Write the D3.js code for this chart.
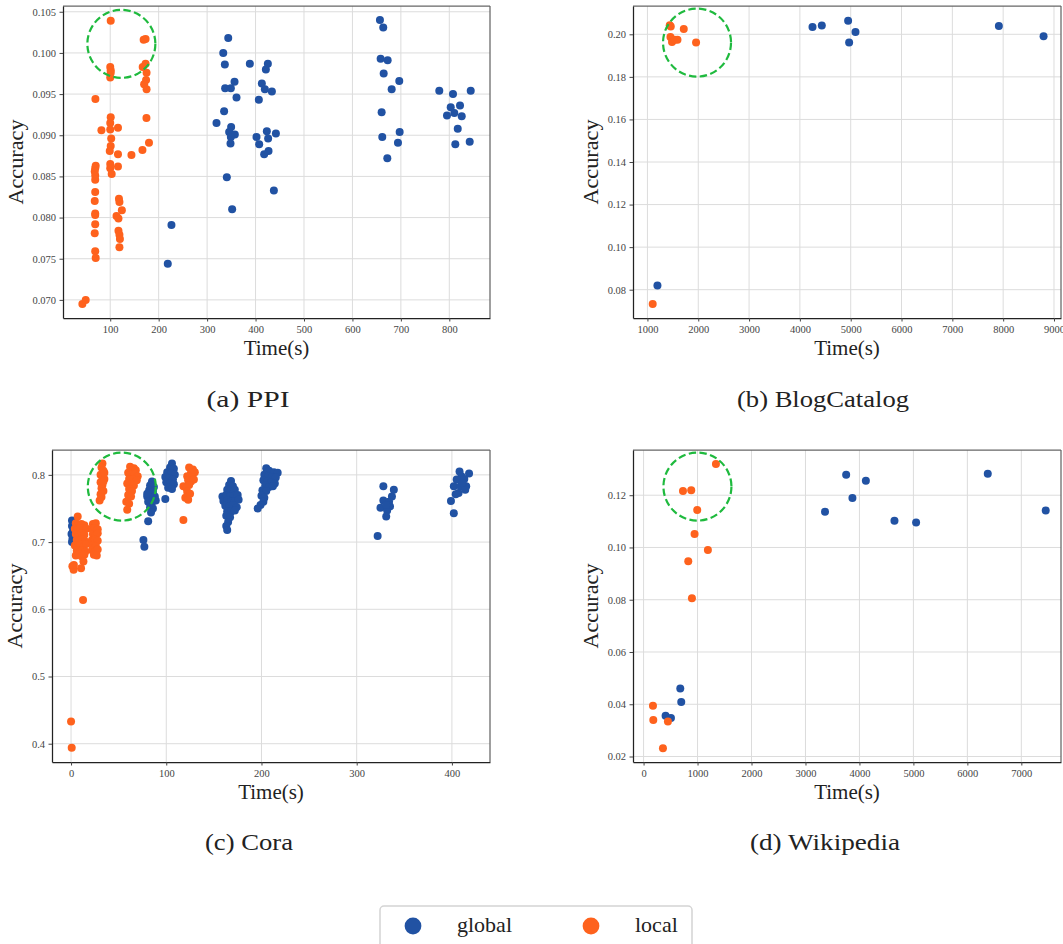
<!DOCTYPE html>
<html>
<head>
<meta charset="utf-8">
<script src="https://cdn.jsdelivr.net/npm/d3@7"></script>
<style>
  body { margin: 0; background: #fff; }
  svg { display: block; }
  .tick text { font-family: "Liberation Serif", serif; font-size: 10.5px; fill: #444; }
  .label { font-family: "Liberation Serif", serif; fill: #222; }
</style>
</head>
<body>
<svg id="fig" width="1063" height="944"></svg>
<script>
// ---- data (time in seconds, accuracy) ----
var ppiGlobal = [
  [226.4,0.0791],[218.8,0.0744],
  [343.6,0.1018],[333.3,0.1000],[336.6,0.0986],[388.2,0.0987],[356.6,0.0965],[337.2,0.0957],[349,0.0957],
  [360.7,0.0946],[335.1,0.0929],[319.4,0.0915],[349.6,0.0910],[345.5,0.0904],[357.2,0.0901],[349,0.0898],
  [348.3,0.0890],[340.7,0.0849],[351.7,0.0810],
  [425.4,0.0987],[421.3,0.0980],[413,0.0963],[419.2,0.0956],[433.7,0.0953],[406.8,0.0943],[423.3,0.0905],
  [402,0.0898],[442,0.0902],[426,0.0896],[407.5,0.0889],[426.8,0.0881],[417.8,0.0877],[437.8,0.0833],
  [656.8,0.1040],[663.6,0.1031],[658.2,0.0993],[672.7,0.0991],[664.5,0.0975],[696.7,0.0966],[681,0.0956],
  [660.3,0.0928],[697.5,0.0904],[661.6,0.0898],[694,0.0891],[672,0.0872],
  [779.3,0.0954],[844.2,0.0954],[807.6,0.0950],[822.1,0.0936],[802.9,0.0934],[810.3,0.0927],[795.2,0.0924],
  [825.6,0.0923],[817.4,0.0908],[842.1,0.0892],[812.4,0.0889]
];
var ppiLocal = [
  [42.5,0.0695],[49.4,0.0700],[69.4,0.0944],
  [70,0.0863],[69,0.0860],[68,0.0856],[69,0.0851],[69,0.0846],[69,0.0831],[68,0.0820],[69,0.0805],
  [69,0.0803],[69,0.0792],[68,0.0781],[69,0.0759],[70,0.0751],
  [81.8,0.0906],
  [101,0.1039],[100,0.0983],[101,0.0979],[101,0.0976],[100,0.0970],[101,0.0922],[100,0.0915],[100,0.0907],
  [102,0.0896],[101,0.0887],[99,0.0881],[100,0.0865],[100,0.0860],[103,0.0853],
  [116,0.0909],[116,0.0877],[116,0.0862],[118,0.0823],[119,0.0819],[124,0.0809],[113,0.0802],[117,0.0799],
  [117,0.0784],[119,0.0779],[120,0.0774],[119,0.0764],
  [143.8,0.0876],[166.5,0.0882],[180,0.0891],[174.8,0.0921],
  [169,0.1016],[173,0.1017],[167,0.0983],[173,0.0987],[175,0.0976],[174,0.0967],[170,0.0962],[175,0.0956]
];
var blogGlobal = [
  [1197,0.0820],[4248,0.2034],[4431,0.2041],[4949,0.2064],[5094,0.2011],[4969,0.1961],[7915,0.2039],[8795,0.1991]
];
var blogLocal = [
  [1439,0.2042],[1459,0.2037],[1453,0.1987],[1484,0.1964],[1537,0.1975],[1591,0.1975],[1715,0.2025],
  [1957,0.1962],[1104,0.0733]
];
var coraGlobal = [
  [1,0.732],[1,0.724],[0.5,0.712],[1.5,0.705],[1,0.700],[2,0.716],
  [76,0.703],[77,0.693],[81,0.731],
  [85,0.790],[83,0.784],[87,0.782],[82,0.777],[86,0.775],[80,0.768],[84,0.767],[88,0.768],[81,0.760],
  [85,0.759],[89,0.762],[83,0.752],[86,0.750],[84,0.744],[80,0.772],
  [99,0.764],
  [106,0.817],[104,0.811],[108,0.809],[101,0.804],[105,0.802],[109,0.800],[99,0.797],[103,0.795],
  [107,0.793],[100,0.789],[104,0.787],[108,0.786],[102,0.781],[106,0.779],
  [168,0.791],[166,0.785],[170,0.783],[164,0.778],[168,0.776],[172,0.778],[159,0.768],[163,0.770],
  [167,0.768],[171,0.769],[175,0.770],[160,0.761],[164,0.762],[168,0.760],[172,0.761],[176,0.763],
  [162,0.754],[166,0.753],[170,0.755],[174,0.752],[164,0.746],[168,0.745],[172,0.747],[163,0.739],
  [167,0.737],[165,0.730],[163,0.724],[164,0.718],
  [205,0.810],[208,0.806],[213,0.804],[217,0.803],[203,0.800],[207,0.798],[211,0.797],[215,0.796],
  [202,0.792],[206,0.790],[210,0.789],[214,0.787],[204,0.784],[208,0.782],[212,0.783],[201,0.777],
  [205,0.776],[200,0.769],[203,0.766],[202,0.760],[199,0.755],[196,0.750],
  [328,0.783],[339,0.778],[337,0.768],[328,0.762],[334,0.760],[325,0.751],[335,0.753],[332,0.747],
  [331,0.738],[322,0.709],[331,0.755],
  [408,0.805],[418,0.802],[410,0.798],[405,0.793],[413,0.794],[402,0.783],[409,0.783],[415,0.783],
  [407,0.773],[414,0.778],[399,0.761],[402,0.743],[411,0.788],[404,0.771]
];
var coraLocal = [
  [0,0.433],[0.7,0.394],[1.4,0.664],[2.7,0.659],[12.6,0.614],[7,0.738],
  [5,0.728],[8,0.726],[11,0.727],[14,0.725],[4,0.720],[7,0.719],[10,0.721],[13,0.718],[16,0.720],
  [5,0.712],[8,0.710],[11,0.713],[14,0.711],[6,0.703],[9,0.702],[12,0.704],[15,0.701],[4,0.695],
  [7,0.694],[10,0.696],[13,0.693],[16,0.697],[6,0.687],[9,0.685],[12,0.688],[15,0.686],[5,0.680],
  [8,0.682],[11,0.679],[14,0.681],[13,0.671],[10.5,0.661],[3,0.666],
  [23,0.727],[26,0.728],[22,0.720],[25,0.721],[28,0.719],[23,0.712],[26,0.710],[28,0.713],[22,0.703],
  [25,0.704],[28,0.702],[23,0.695],[26,0.694],[22,0.688],[25,0.686],[28,0.689],[24,0.681],[27,0.680],
  [33,0.817],[32,0.811],[34,0.806],[31,0.800],[33,0.797],[35,0.794],[31,0.789],[33,0.785],[32,0.780],
  [34,0.776],[31,0.771],[30,0.762],[32,0.767],[34,0.790],[35,0.803],
  [62,0.812],[66,0.810],[64,0.806],[68,0.807],[60,0.803],[63,0.800],[67,0.801],[70,0.798],[61,0.794],
  [65,0.793],[69,0.792],[59,0.787],[63,0.786],[66,0.784],[61,0.779],[64,0.776],[60,0.770],[63,0.768],
  [58,0.760],[61,0.757],[59,0.748],
  [124,0.811],[128,0.808],[126,0.803],[130,0.804],[122,0.798],[127,0.797],[123,0.792],[126,0.790],
  [129,0.793],[118,0.783],[121,0.781],[124,0.785],[122,0.775],[125,0.772],[120,0.766],[123,0.763],
  [118,0.733]
];
var wikiGlobal = [
  [680,0.0460],[698,0.0409],[408,0.0356],[507,0.0347],
  [3362,0.1137],[3754,0.1278],[3870,0.1189],[4119,0.1255],[4649,0.1102],[5050,0.1096],[6378,0.1282],[7452,0.1141]
];
var wikiLocal = [
  [1341,0.1319],[730,0.1216],[883,0.1219],[994,0.1143],[945,0.1052],[1192,0.0990],[828,0.0947],
  [896,0.0806],[174,0.0394],[180,0.0340],[451,0.0334],[359,0.0232]
];

// tick values
var ppiXTicks = [100,200,300,400,500,600,700,800];
var ppiYTicks = [0.070,0.075,0.080,0.085,0.090,0.095,0.100,0.105];
var blogXTicks = [1000,2000,3000,4000,5000,6000,7000,8000,9000];
var blogYTicks = [0.08,0.10,0.12,0.14,0.16,0.18,0.20];
var coraXTicks = [0,100,200,300,400];
var coraYTicks = [0.4,0.5,0.6,0.7,0.8];
var wikiXTicks = [0,1000,2000,3000,4000,5000,6000,7000];
var wikiYTicks = [0.02,0.04,0.06,0.08,0.10,0.12];

var seriesNames = ['global', 'local'];
var blue = '#2152a3', orange = '#fe621d', green = '#1fba3e';

var svg = d3.select('#fig');

function panel(p) {
    var x = d3.scaleLinear().domain(p.xDomain).range([p.left, p.right]);
    var y = d3.scaleLinear().domain(p.yDomain).range([p.bottom, p.top]);
    var g = svg.append('g');

    // grid
    g.selectAll('.vgrid').data(p.xTicks).enter().append('line')
        .attr('x1', d => x(d)).attr('x2', d => x(d))
        .attr('y1', p.top).attr('y2', p.bottom)
        .attr('stroke', '#dcdcdc').attr('stroke-width', 1);
    g.selectAll('.hgrid').data(p.yTicks).enter().append('line')
        .attr('x1', p.left).attr('x2', p.right)
        .attr('y1', d => y(d)).attr('y2', d => y(d))
        .attr('stroke', '#dcdcdc').attr('stroke-width', 1);

    // points (global underneath, local on top)
    g.selectAll('.g').data(p.global).enter().append('circle')
        .attr('cx', d => x(d[0])).attr('cy', d => y(d[1])).attr('r', 4)
        .attr('fill', blue);
    g.selectAll('.l').data(p.local).enter().append('circle')
        .attr('cx', d => x(d[0])).attr('cy', d => y(d[1])).attr('r', 4)
        .attr('fill', orange);

    // dashed highlight
    g.append('circle')
        .attr('cx', x(p.circle[0])).attr('cy', y(p.circle[1])).attr('r', 34)
        .attr('fill', 'none').attr('stroke', green)
        .attr('stroke-width', 2.2).attr('stroke-dasharray', '7.4,3.4');

    // spines
    g.append('line').attr('x1', p.left).attr('x2', p.right).attr('y1', p.top).attr('y2', p.top)
        .attr('stroke', '#666').attr('stroke-width', 1.25);
    g.append('line').attr('x1', p.right).attr('x2', p.right).attr('y1', p.top).attr('y2', p.bottom)
        .attr('stroke', '#666').attr('stroke-width', 1.25);

    var xAxis = d3.axisBottom(x).tickValues(p.xTicks).tickFormat(d3.format('d'))
        .tickSizeInner(3.5).tickSizeOuter(0).tickPadding(4.5);
    var yAxis = d3.axisLeft(y).tickValues(p.yTicks).tickFormat(d3.format(p.yFmt))
        .tickSizeInner(3.5).tickSizeOuter(0).tickPadding(3.5);

    var gx = g.append('g').attr('transform', 'translate(0,' + p.bottom + ')').call(xAxis);
    var gy = g.append('g').attr('transform', 'translate(' + p.left + ',0)').call(yAxis);
    [gx, gy].forEach(a => {
        a.select('.domain').attr('stroke', '#222').attr('stroke-width', 1.25);
        a.selectAll('.tick line').attr('stroke', '#444');
    });

    // labels
    g.append('text').attr('class', 'label')
        .attr('x', (p.left + p.right) / 2).attr('y', p.bottom + 37)
        .attr('text-anchor', 'middle').style('font-size', '21px')
        .text('Time(s)');
    g.append('text').attr('class', 'label')
        .attr('transform', 'translate(' + p.ylabX + ',' + (p.top + p.bottom) / 2 + ') rotate(-90)')
        .attr('text-anchor', 'middle').style('font-size', '21px')
        .attr('textLength', 85).attr('lengthAdjust', 'spacingAndGlyphs')
        .text('Accuracy');
    g.append('text').attr('class', 'label')
        .attr('x', p.capX).attr('y', p.capY)
        .attr('text-anchor', 'middle').style('font-size', '24px')
        .attr('textLength', p.capW).attr('lengthAdjust', 'spacingAndGlyphs')
        .text(p.caption);
}

panel({ left: 63, right: 490, top: 6, bottom: 318, xDomain: [2.5, 884], yDomain: [0.0678, 0.1057],
    xTicks: ppiXTicks, yTicks: ppiYTicks, yFmt: '.3f', global: ppiGlobal, local: ppiLocal,
    circle: [123, 0.1011], ylabX: 23, caption: '(a) PPI', capX: 248, capY: 407, capW: 83 });
panel({ left: 633, right: 1061, top: 6, bottom: 318, xDomain: [716, 9138], yDomain: [0.0667, 0.2133],
    xTicks: blogXTicks, yTicks: blogYTicks, yFmt: '.2f', global: blogGlobal, local: blogLocal,
    circle: [1976, 0.1961], ylabX: 598, caption: '(b) BlogCatalog', capX: 823, capY: 407, capW: 172 });
panel({ left: 52, right: 490, top: 450, bottom: 762, xDomain: [-20, 440], yDomain: [0.3728, 0.837],
    xTicks: coraXTicks, yTicks: coraYTicks, yFmt: '.1f', global: coraGlobal, local: coraLocal,
    circle: [53.3, 0.7825], ylabX: 22, caption: '(c) Cora', capX: 249, capY: 850, capW: 88 });
panel({ left: 633, right: 1061, top: 450, bottom: 762, xDomain: [-196, 7735], yDomain: [0.0179, 0.1373],
    xTicks: wikiXTicks, yTicks: wikiYTicks, yFmt: '.2f', global: wikiGlobal, local: wikiLocal,
    circle: [998, 0.1233], ylabX: 598, caption: '(d) Wikipedia', capX: 825, capY: 850, capW: 150 });

// legend
var leg = svg.append('g');
leg.append('rect').attr('x', 380).attr('y', 906).attr('width', 312).attr('height', 60)
    .attr('rx', 4).attr('fill', '#fff').attr('stroke', '#d4d4d4').attr('stroke-width', 1.5);
var legX = d3.scalePoint().domain(seriesNames).range([413, 591]);
leg.selectAll('.lc').data(seriesNames).enter().append('circle')
    .attr('cx', d => legX(d)).attr('cy', 926).attr('r', 8.4)
    .attr('fill', d => d === 'global' ? blue : orange);
leg.selectAll('.lt').data(seriesNames).enter().append('text')
    .attr('class', 'label')
    .attr('x', d => legX(d) + 44).attr('y', 932)
    .style('font-size', '22px')
    .text(d => d);
</script>
</body>
</html>
